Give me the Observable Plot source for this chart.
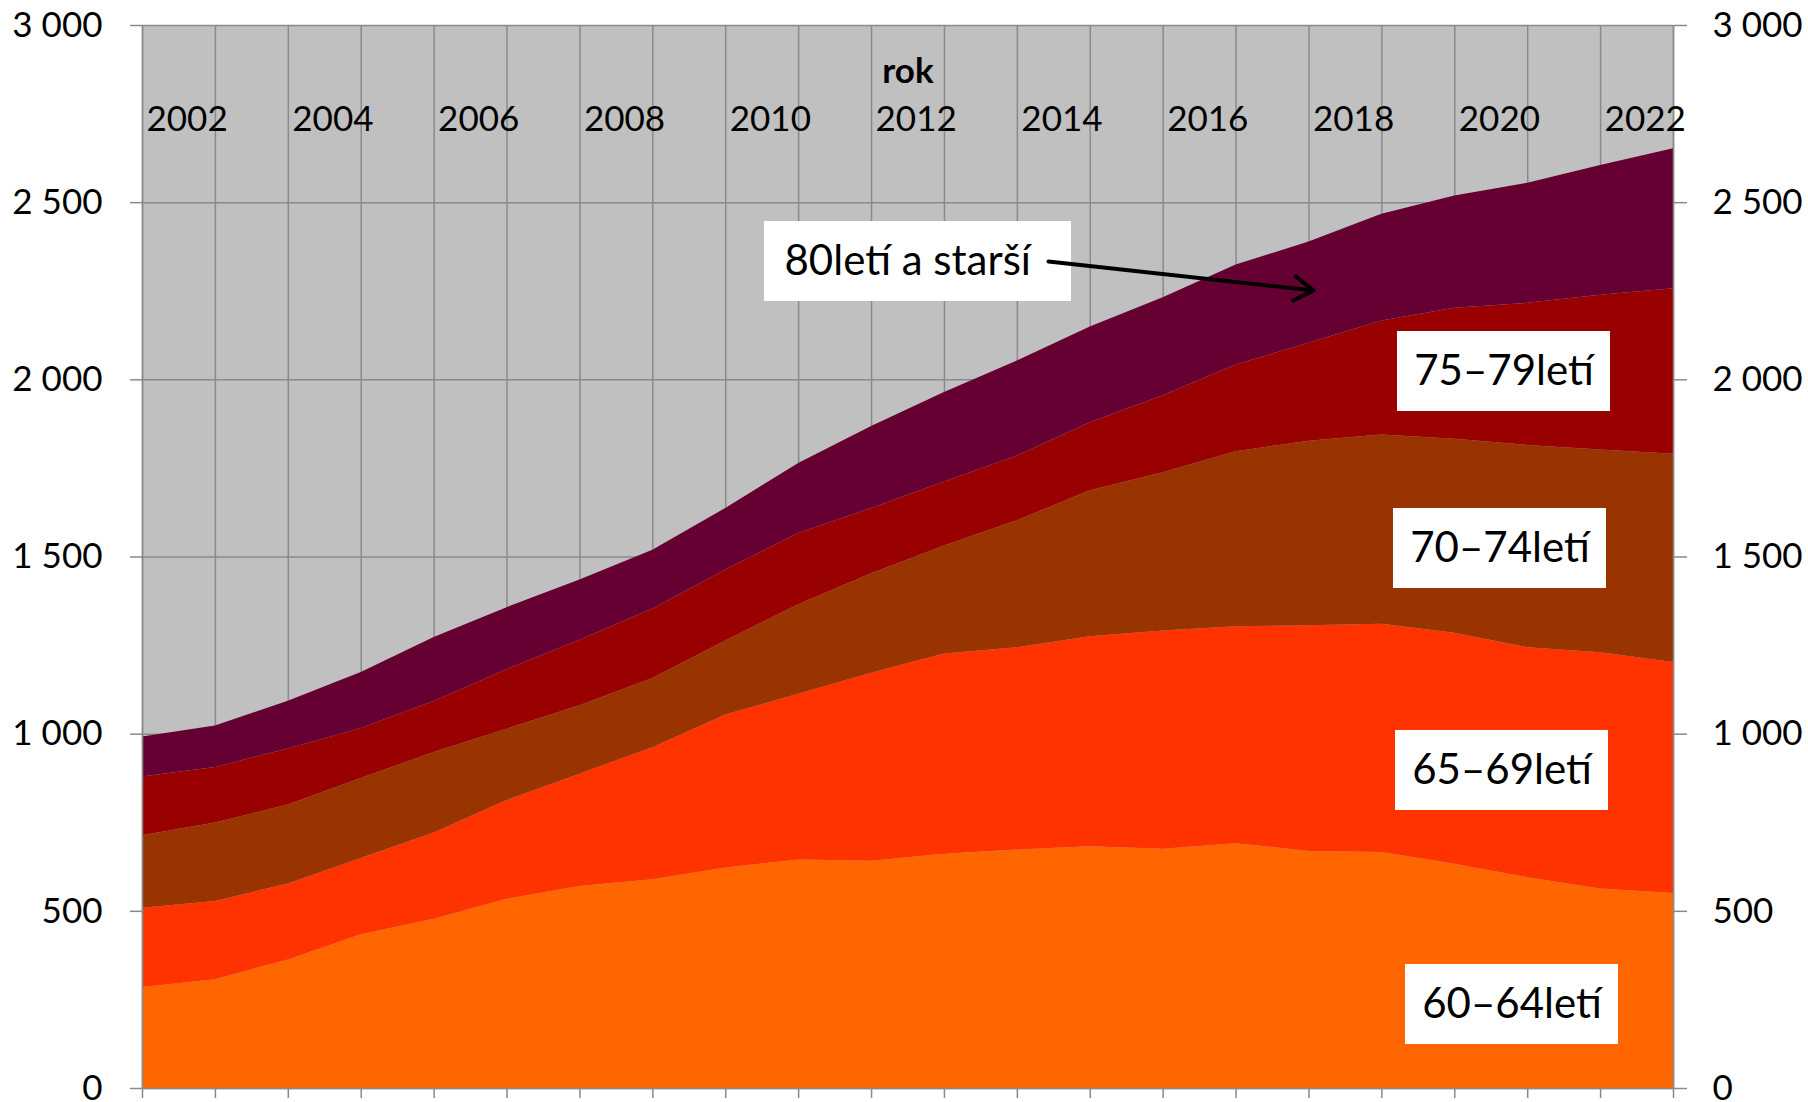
<!DOCTYPE html>
<html>
<head>
<meta charset="utf-8">
<script src="https://cdn.jsdelivr.net/npm/d3@7"></script>
<script src="https://cdn.jsdelivr.net/npm/@observablehq/plot@0.6"></script>
<style>
  html, body { margin: 0; padding: 0; background: #ffffff; }
  #chart svg { display: block; }
</style>
</head>
<body>
<div id="chart"></div>
<script>
// ---- data (thousands of persons) ----
const years = [2002, 2003, 2004, 2005, 2006, 2007, 2008, 2009, 2010, 2011, 2012,
               2013, 2014, 2015, 2016, 2017, 2018, 2019, 2020, 2021, 2022, 2023];
const yearLabels = [2002, 2004, 2006, 2008, 2010, 2012, 2014, 2016, 2018, 2020, 2022];
const yTicks = [0, 500, 1000, 1500, 2000, 2500, 3000];

const groups = ["60–64letí", "65–69letí", "70–74letí", "75–79letí", "80letí a starší"];
const age60_64 = [285, 307, 363, 434, 478, 534, 570, 589, 622, 645, 641, 661, 673, 682, 675, 691, 669, 666, 633, 595, 563, 550];
const age65_69 = [224, 221, 214, 215, 243, 279, 317, 373, 432, 468, 531, 565, 571, 593, 616, 612, 637, 644, 652, 649, 667, 652];
const age70_74 = [204, 221, 223, 226, 227, 201, 193, 195, 209, 252, 281, 305, 358, 412, 447, 494, 521, 534, 547, 571, 572, 588];
const age75_79 = [166, 157, 158, 141, 144, 168, 185, 196, 200, 201, 184, 181, 183, 192, 217, 245, 276, 322, 370, 401, 437, 467];
const age80plus = [113, 117, 135, 158, 181, 175, 170, 166, 174, 198, 231, 252, 268, 270, 277, 282, 286, 301, 317, 339, 366, 395];

const colors = ["#ff6600", "#ff3300", "#993300", "#990000", "#660033"];

// ---- annotation placement (in data units) ----
const boxes = [
  {label: "75–79letí", x1: 2019.214, x2: 2022.136, y1: 1910.6, y2: 2136.4},
  {label: "70–74letí", x1: 2019.159, x2: 2022.081, y1: 1411.1, y2: 1636.9},
  {label: "65–69letí", x1: 2019.187, x2: 2022.108, y1: 784.6, y2: 1010.4},
  {label: "60–64letí", x1: 2019.324, x2: 2022.245, y1: 124.2, y2: 350.0}
];
const calloutBox = {label: "80letí a starší", x1: 2010.532, x2: 2014.743, y1: 2221.1, y2: 2446.8, tx: 2010.806};
const calloutArrow = {x1: 2014.427, y1: 2334, x2: 2018.062, y2: 2252};

// ---- tidy table ----
const seriesValues = [age60_64, age65_69, age70_74, age75_79, age80plus];
const table = [];
groups.forEach((g, k) => years.forEach((yr, i) => table.push({year: yr, group: g, value: seriesValues[k][i]})));

const fmt = d => d >= 1000 ? `${Math.floor(d / 1000)}\u00a0${String(d % 1000).padStart(3, "0")}` : String(d);
const gridColor = "#8a8a8a";
const FONT = "Lato, 'Open Sans', sans-serif";

const chart = Plot.plot({
  width: 1808,
  height: 1102,
  marginLeft: 142,
  marginRight: 135,
  marginTop: 25,
  marginBottom: 14,
  x: {domain: [2002, 2023], label: null},
  y: {domain: [0, 3000], label: null},
  color: {domain: groups, range: colors},
  style: {fontFamily: FONT, fontSize: "35px", color: "black", background: "white", overflow: "visible"},
  marks: [
    Plot.frame({fill: "#c0c0c0", stroke: null}),
    Plot.gridX(years, {stroke: gridColor, strokeOpacity: 1, strokeWidth: 1.5}),
    Plot.gridY(yTicks, {stroke: gridColor, strokeOpacity: 1, strokeWidth: 1.5}),
    Plot.areaY(table, {x: "year", y: "value", fill: "group", z: "group", order: groups, curve: "linear"}),
    Plot.ruleX([2002, 2023], {stroke: gridColor, strokeWidth: 1.5}),
    Plot.ruleY([0], {stroke: gridColor, strokeWidth: 1.5}),
    Plot.axisY(yTicks, {anchor: "left", tickSize: 12, tickPadding: 28, tickFormat: fmt, stroke: gridColor, fill: "black", fontSize: 35, label: null, strokeWidth: 1.5}),
    Plot.axisY(yTicks, {anchor: "right", tickSize: 13, tickPadding: 26, tickFormat: fmt, stroke: gridColor, fill: "black", fontSize: 35, label: null, strokeWidth: 1.5}),
    Plot.axisX(years, {anchor: "bottom", tickSize: 10, tickFormat: () => "", stroke: gridColor, label: null, strokeWidth: 1.5}),
    Plot.text(yearLabels, {x: d => d, text: d => String(d), frameAnchor: "top", lineAnchor: "middle", dy: 94, dx: 4, textAnchor: "start", fontSize: 35, fill: "black"}),
    Plot.text(["rok"], {text: d => d, frameAnchor: "top", lineAnchor: "middle", dy: 46, fontSize: 35, fontWeight: "bold", fill: "black"}),
    Plot.rect(boxes, {x1: "x1", x2: "x2", y1: "y1", y2: "y2", fill: "white"}),
    Plot.text(boxes, {x: d => (d.x1 + d.x2) / 2, y: d => (d.y1 + d.y2) / 2, text: "label", fontSize: 42, fill: "black"}),
    Plot.rect([calloutBox], {x1: "x1", x2: "x2", y1: "y1", y2: "y2", fill: "white"}),
    Plot.text([calloutBox], {x: "tx", y: d => (d.y1 + d.y2) / 2, text: "label", fontSize: 42, textAnchor: "start", fill: "black"}),
    Plot.arrow([calloutArrow], {x1: "x1", y1: "y1", x2: "x2", y2: "y2", stroke: "black", strokeWidth: 4, headLength: 8.5, headAngle: 65})
  ]
});
document.getElementById("chart").appendChild(chart);
</script>
</body>
</html>
